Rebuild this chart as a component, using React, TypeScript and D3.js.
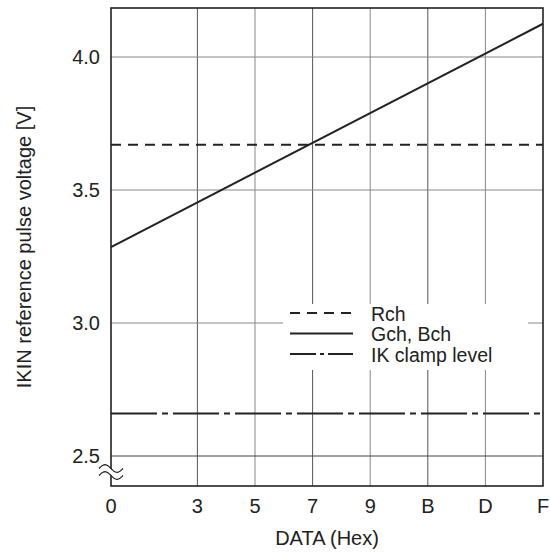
import React from "react";
import * as d3 from "d3";

const xTickValues = [0, 3, 5, 7, 9, 11, 13, 15];
const xTickLabels = ["0", "3", "5", "7", "9", "B", "D", "F"];
const yTickValues = [2.5, 3.0, 3.5, 4.0];
const rchData = [
  { x: 0, v: 3.67 },
  { x: 15, v: 3.67 },
];
const gchData = [
  { x: 0, v: 3.285 },
  { x: 15, v: 4.125 },
];
const ikData = [
  { x: 0, v: 2.66 },
  { x: 15, v: 2.66 },
];
const legendItems = [
  { label: "Rch", dash: "10 7" },
  { label: "Gch, Bch", dash: "" },
  { label: "IK clamp level", dash: "26 4 4 4" },
];

const W = 550;
const H = 554;
const L = 111;
const R = 543;
const T = 8;
const B = 486;
const INK = "#222";
const FONT = "'Liberation Sans', Arial, Helvetica, sans-serif";

export default function App() {
  const x = d3.scaleLinear().domain([0, 15]).range([L, R]);
  const y = d3.scaleLinear().domain([2.5, 4.0]).range([456, 57]);
  const line = d3
    .line<{ x: number; v: number }>()
    .x((d) => x(d.x))
    .y((d) => y(d.v));

  const breakY = 472;
  const tildePts = (cy: number): [number, number][] => {
    const x0 = 99;
    const x1 = 123;
    const pts: [number, number][] = [];
    for (let i = 0; i <= 24; i++) {
      const t = i / 24;
      pts.push([x0 + (x1 - x0) * t, cy - 3.8 * Math.sin(t * Math.PI * 2)]);
    }
    return pts;
  };
  const upper = tildePts(breakY - 3.5);
  const lower = tildePts(breakY + 3.5);
  const band = (d3.line()(upper.concat(lower.slice().reverse())) as string) + "Z";

  return (
    <svg width={W} height={H} style={{ position: "absolute", left: 0, top: 0, background: "#fff" }}>
      <rect x={0} y={0} width={W} height={H} fill="#fff" />
      {/* vertical grid */}
      {xTickValues.slice(1, -1).map((v, i) => (
        <line
          key={"vg" + v}
          x1={x(v)}
          x2={x(v)}
          y1={T}
          y2={B}
          stroke={i % 2 === 0 ? "#555" : "#888"}
          strokeWidth={1}
        />
      ))}
      {/* horizontal grid */}
      {yTickValues.map((v, i) => (
        <line
          key={"hg" + v}
          x1={L}
          x2={R}
          y1={y(v)}
          y2={y(v)}
          stroke={i === 0 ? "#444" : "#888"}
          strokeWidth={1}
        />
      ))}
      {/* legend background */}
      <rect x={283} y={304} width={245} height={66} fill="#fff" />
      {/* data lines */}
      <path d={line(rchData) as string} fill="none" stroke={INK} strokeWidth={2} strokeDasharray="10 7" />
      <path d={line(gchData) as string} fill="none" stroke={INK} strokeWidth={2} />
      <path d={line(ikData) as string} fill="none" stroke={INK} strokeWidth={2} strokeDasharray="46 5 6 5" />
      {/* frame */}
      <rect x={L} y={T} width={R - L} height={B - T} fill="none" stroke={INK} strokeWidth={1.6} />
      {/* axis break */}
      <path d={band} fill="#fff" stroke="none" />
      <path d={d3.line()(upper) as string} fill="none" stroke={INK} strokeWidth={1.2} />
      <path d={d3.line()(lower) as string} fill="none" stroke={INK} strokeWidth={1.2} />
      {/* x tick labels */}
      {xTickValues.map((v, i) => (
        <text
          key={"xt" + v}
          x={x(v)}
          y={513}
          textAnchor="middle"
          fontFamily={FONT}
          fontSize={20}
          fill={INK}
        >
          {xTickLabels[i]}
        </text>
      ))}
      {/* y tick labels */}
      {yTickValues.map((v) => (
        <text
          key={"yt" + v}
          x={100}
          y={y(v) + 7}
          textAnchor="end"
          fontFamily={FONT}
          fontSize={20}
          fill={INK}
        >
          {d3.format(".1f")(v)}
        </text>
      ))}
      {/* axis titles */}
      <text x={(L + R) / 2} y={545} textAnchor="middle" fontFamily={FONT} fontSize={20} fill={INK}>
        DATA (Hex)
      </text>
      <text
        transform={`translate(31,${(T + B) / 2}) rotate(-90)`}
        textAnchor="middle"
        fontFamily={FONT}
        fontSize={20}
        fill={INK}
      >
        IKIN reference pulse voltage [V]
      </text>
      {/* legend */}
      {legendItems.map((it, i) => {
        const ly = [313, 333.5, 354][i];
        return (
          <g key={it.label}>
            <line
              x1={290}
              x2={353}
              y1={ly}
              y2={ly}
              stroke={INK}
              strokeWidth={2}
              strokeDasharray={it.dash || undefined}
            />
            <text x={371} y={ly + 7.5} fontFamily={FONT} fontSize={19.5} fill={INK}>
              {it.label}
            </text>
          </g>
        );
      })}
    </svg>
  );
}
